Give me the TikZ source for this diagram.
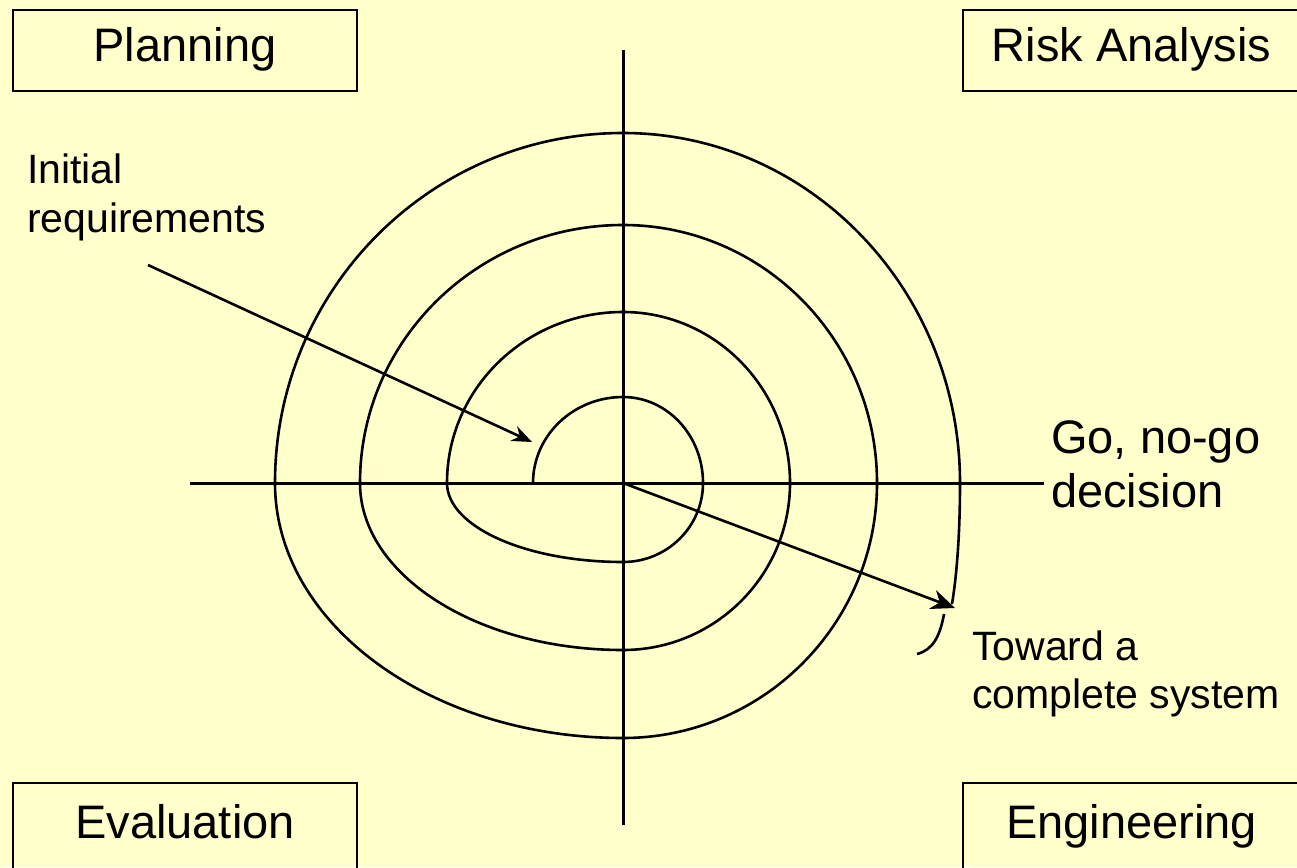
\documentclass[tikz,border=0pt]{standalone}
\usepackage{fontspec}
\setmainfont{Liberation Sans}
\usetikzlibrary{arrows.meta}
\definecolor{bgyellow}{HTML}{FFFFCC}
\tikzset{
  quadbox/.style={draw=black, line width=2.8pt, inner xsep=0pt, inner ysep=0pt, anchor=base,
    font=\fontsize{47}{56}\selectfont},
  axisline/.style={line width=3pt, line cap=butt},
  spiralline/.style={line width=2.6pt},
  bigtxt/.style={inner sep=0pt, anchor=base west, font=\fontsize{47}{56}\selectfont},
  smalltxt/.style={inner sep=0pt, anchor=base west, font=\fontsize{41}{49}\selectfont},
  ptr/.style={line width=2.6pt},
}
\begin{document}
\begin{tikzpicture}[x=1pt, y=-1pt]
\fill[bgyellow] (0,0) rectangle (1297,867);
\useasboundingbox (0,0) rectangle (1297,867);
\begin{scope}
\clip (0,0) rectangle (1297,867);
% quadrant boxes
\node[quadbox, minimum width=344pt, text height=52pt, text depth=29pt] (plan) at (185,62) {Planning};
\node[quadbox, minimum width=337pt, text height=52pt, text depth=29pt] (risk) at (1131.5,62) {Risk Analysis};
\node[quadbox, minimum width=344pt, text height=55pt, text depth=70pt] (eval) at (185,838) {Evaluation};
\node[quadbox, minimum width=337pt, text height=55pt, text depth=70pt] (eng) at (1131.5,838) {Engineering};
\end{scope}
% axes
\coordinate (O) at (623,483);
\coordinate (axN) at (623,50);
\coordinate (axS) at (623,825);
\coordinate (axW) at (190,483);
\coordinate (axE) at (1044,483);
\draw[axisline] (axN) -- (axS);
\draw[axisline] (axW) -- (axE);
% spiral
\coordinate (sp0) at (533,483);
\coordinate (spEnd) at (952,604);
\draw[spiralline] (sp0)
  .. controls (533,435.5) and (573.3,397) .. (623,397)
  .. controls (667.2,397) and (703,435.5) .. (703,483)
  .. controls (703,526.6) and (667.2,562) .. (623,562)
  .. controls (525.8,562) and (447,526.6) .. (447,483)
  .. controls (447,388.6) and (525.8,312) .. (623,312)
  .. controls (715.2,312) and (790,388.6) .. (790,483)
  .. controls (790,575.2) and (715.2,650) .. (623,650)
  .. controls (477.7,650) and (360,575.2) .. (360,483)
  .. controls (360,340.5) and (477.7,225) .. (623,225)
  .. controls (763.3,225) and (877,340.5) .. (877,483)
  .. controls (877,623.8) and (763.3,738) .. (623,738)
  .. controls (430.8,738) and (275,623.8) .. (275,483)
  .. controls (275,289.7) and (430.8,133) .. (623,133)
  .. controls (809.1,133) and (960,289.7) .. (960,483)
  .. controls (960,540) and (956,580) .. (spEnd);
% arrows
\coordinate (initStart) at (148,265);
\coordinate (initEnd) at (532,442);
\draw[ptr, -{Stealth[length=20pt, width=16pt]}] (initStart) -- (initEnd);
\coordinate (tipT) at (955,608);
\draw[ptr, -{Stealth[length=24pt, width=20pt]}] (O) -- (tipT);
\coordinate (hookStart) at (944,614);
\coordinate (hookEnd) at (917,654);
\draw[ptr] (hookStart) .. controls (940,636) and (933,650) .. (hookEnd);
% labels
\node[smalltxt] (init1) at (27,183) {Initial};
\node[smalltxt] (init2) at (27,232) {requirements};
\node[bigtxt] (go1) at (1051,453) {Go, no-go};
\node[bigtxt] (go2) at (1051,507) {decision};
\node[smalltxt] (tow1) at (972,660) {Toward a};
\node[smalltxt] (tow2) at (972,708) {complete system};
\end{tikzpicture}
\end{document}
